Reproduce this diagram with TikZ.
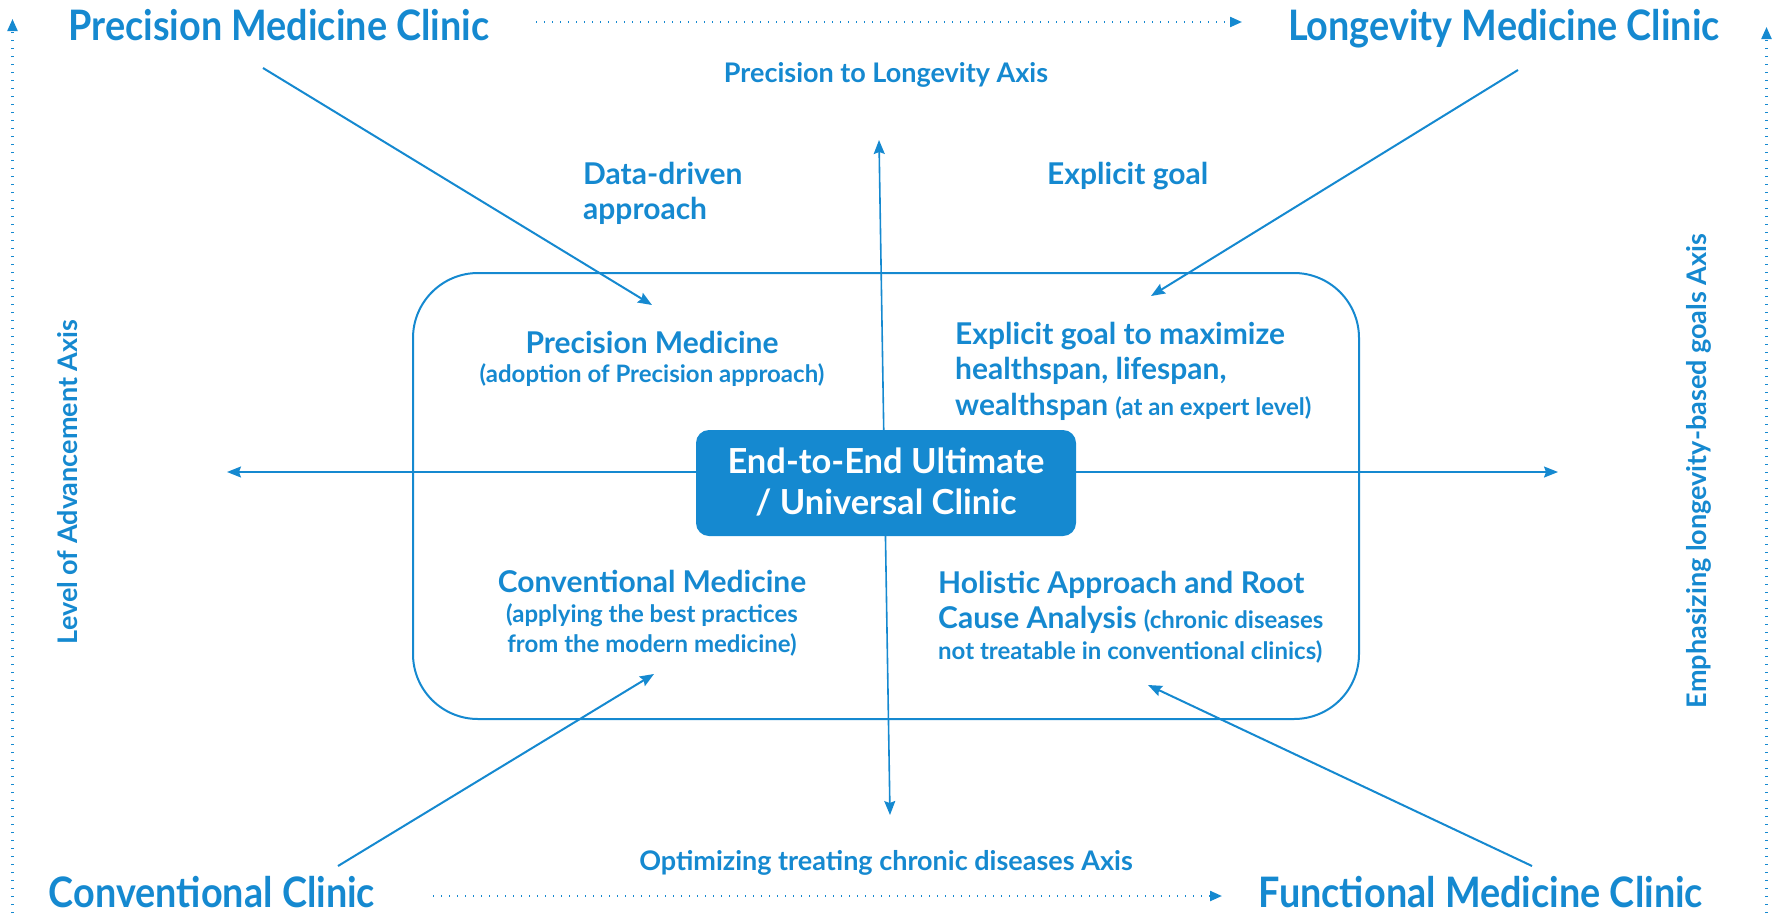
\documentclass[tikz,border=0pt]{standalone}
\usepackage{fontspec}
\setmainfont{Lato}
\newfontfamily\narrowlato[FakeStretch=0.9]{Lato}
\usetikzlibrary{arrows.meta}
\definecolor{mblue}{RGB}{21,137,208}
\begin{document}
\begin{tikzpicture}[x=1pt,y=-1pt,
  every node/.style={inner sep=0pt,text=mblue},
  big/.style={font=\narrowlato\bfseries\fontsize{42}{50}\selectfont},
  med/.style={font=\bfseries\fontsize{30}{36}\selectfont},
  sml/.style={font=\bfseries\fontsize{24}{29}\selectfont},
  axislabel/.style={font=\bfseries\fontsize{27}{32}\selectfont},
  conn/.style={draw=mblue,line width=2pt,-{Stealth[length=14pt,width=11pt,inset=2pt]}},
  axisline/.style={draw=mblue,line width=1.6pt},
  dotarrow/.style={draw=mblue,line width=2.2pt,dash pattern=on 0.8pt off 7.2pt,-{Triangle[length=12pt,width=10pt]}},
  frame/.style={draw=mblue,line width=2pt,rounded corners=65pt},
  core/.style={fill=mblue,rounded corners=13pt,draw=none}
]
\useasboundingbox (0,0) rectangle (1783,913);
% outer frame
\draw[frame] (413,273) rectangle (1359,719);
% axes through the centre
\coordinate (vt) at (879,140);
\coordinate (vb) at (890,815);
\coordinate (hl) at (227,472);
\coordinate (hr) at (1558,472);
\draw[axisline,{Stealth[length=14pt,width=11pt,inset=2pt]}-{Stealth[length=14pt,width=11pt,inset=2pt]}] (vt) -- (vb);
\draw[axisline,{Stealth[length=14pt,width=11pt,inset=2pt]}-{Stealth[length=14pt,width=11pt,inset=2pt]}] (hl) -- (hr);
% centre box
\fill[core] (696,430) rectangle (1076,536);
\node[font=\bfseries\fontsize{34.5}{41}\selectfont,text=white,anchor=base] (c1) at (886,473) {End-to-End Ultimate};
\node[font=\bfseries\fontsize{34.5}{41}\selectfont,text=white,anchor=base] (c2) at (886,514) {/ Universal Clinic};
% clinics
\node[big,anchor=base] (pmc) at (279,40) {Precision Medicine Clinic};
\node[big,anchor=base] (lmc) at (1504,40) {Longevity Medicine Clinic};
\node[big,anchor=base] (cc) at (212,907) {Conventional Clinic};
\node[big,anchor=base] (fmc) at (1481,907) {Functional Medicine Clinic};
% dotted axes
\coordinate (t1) at (536,22); \coordinate (t2) at (1242,22);
\coordinate (b1) at (433,896); \coordinate (b2) at (1222,896);
\coordinate (l1) at (12.5,913); \coordinate (l2) at (12.5,19);
\coordinate (r1) at (1766.5,913); \coordinate (r2) at (1766.5,27);
\draw[dotarrow] (t1) -- (t2);
\draw[dotarrow] (b1) -- (b2);
\draw[dotarrow] (l1) -- (l2);
\draw[dotarrow] (r1) -- (r2);
% axis labels
\node[axislabel] (ax1) at (886,75) {Precision to Longevity Axis};
\node[axislabel] (ax2) at (886,863) {Optimizing treating chronic diseases Axis};
\node[axislabel,rotate=90] (ax3) at (68,482) {Level of Advancement Axis};
\node[axislabel,rotate=90] (ax4) at (1699,471) {Emphasizing longevity-based goals Axis};
% quadrant texts
\node[med,anchor=base] (pm1) at (652,353) {Precision Medicine};
\node[sml,anchor=base] (pm2) at (652,382) {(adoption of Precision approach)};
\node[med,anchor=base west] (eg1) at (955,344) {Explicit goal to maximize};
\node[med,anchor=base west] (eg2) at (955,379) {healthspan, lifespan,};
\node[med,anchor=base west] (eg3) at (955,415) {wealthspan \fontsize{24}{29}\selectfont(at an expert level)};
\node[med,anchor=base] (cm1) at (652,592) {Conventional Medicine};
\node[sml,anchor=base] (cm2) at (652,622) {(applying the best practices};
\node[sml,anchor=base] (cm3) at (652,652) {from the modern medicine)};
\node[med,anchor=base west] (ha1) at (938,593) {Holistic Approach and Root};
\node[med,anchor=base west] (ha2) at (938,628) {Cause Analysis \fontsize{24}{29}\selectfont(chronic diseases};
\node[sml,anchor=base west] (ha3) at (938,659) {not treatable in conventional clinics)};
% upper labels
\node[med,anchor=base west] (dd1) at (583,184) {Data-driven};
\node[med,anchor=base west] (dd2) at (583,219) {approach};
\node[med,anchor=base west] (eg) at (1047,184) {Explicit goal};
% diagonal connectors
\coordinate (a1s) at (263,68); \coordinate (a1e) at (652,305);
\coordinate (a2s) at (1518,70); \coordinate (a2e) at (1151,296);
\coordinate (a3s) at (338,866); \coordinate (a3e) at (654,674);
\coordinate (a4s) at (1532,866); \coordinate (a4e) at (1148,685);
\draw[conn] (a1s) -- (a1e);
\draw[conn] (a2s) -- (a2e);
\draw[conn] (a3s) -- (a3e);
\draw[conn] (a4s) -- (a4e);
\end{tikzpicture}
\end{document}
